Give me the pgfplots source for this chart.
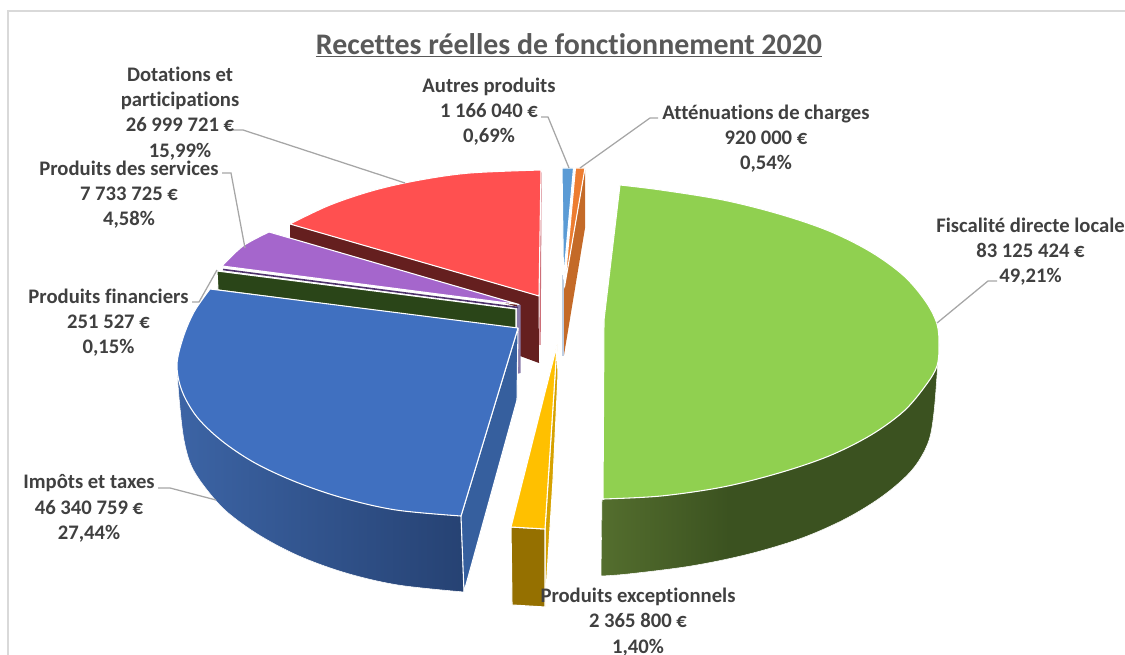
\documentclass[border=0pt]{standalone}
\usepackage{pgfplots}
\pgfplotsset{compat=1.18}
\usepackage{fontspec}
\setmainfont[Ligatures=CommonOff]{Carlito}
\definecolor{txt}{HTML}{404040}
\definecolor{titlec}{HTML}{595959}
\definecolor{leader}{HTML}{A6A6A6}
\definecolor{vert}{RGB}{144,208,80}
\definecolor{vertA}{RGB}{84,110,46}
\definecolor{vertB}{RGB}{59,82,32}
\definecolor{bleu}{RGB}{64,112,192}
\definecolor{bleuA}{RGB}{60,100,165}
\definecolor{bleuB}{RGB}{38,66,115}
\definecolor{bleucoupe}{HTML}{365F9E}
\definecolor{rouge}{HTML}{FF5050}
\definecolor{rougecoupe}{HTML}{651F1F}
\definecolor{rougebord}{RGB}{205,110,120}
\definecolor{violet}{HTML}{A566CC}
\definecolor{violetcoupe}{RGB}{78,50,108}
\definecolor{violetbord}{RGB}{138,124,170}
\definecolor{vertcoupe}{HTML}{2A4518}
\definecolor{jaune}{HTML}{FFC000}
\definecolor{jaunecoupe}{HTML}{D6A200}
\definecolor{jaunebord}{HTML}{957000}
\definecolor{orange}{HTML}{ED7D31}
\definecolor{orangecoupe}{HTML}{C46A28}
\definecolor{bleuclair}{HTML}{5B9BD5}
\definecolor{bleupale}{RGB}{190,205,225}
% the rim of the largest slice darkens over its first third, then stays flat
\pgfdeclarehorizontalshading{vertrim}{100bp}{color(0bp)=(vertA); color(25bp)=(vertA); color(44bp)=(vertB); color(100bp)=(vertB)}
\tikzset{lab/.style={font=\bfseries\fontsize{15.5}{18.9}\selectfont,text=txt,align=center,inner sep=0pt}}
\pgfplotsset{
  face/.style={fill=#1,draw=white,line width=0.8pt,line join=round},
  curved/.style={face=#1,smooth,tension=0.55},
  lead/.style={draw=leader,line width=0.95pt}
}
\begin{document}
\begin{tikzpicture}
\clip (0,0) rectangle (843.75pt,491.25pt);
\begin{axis}[
  at={(0,0)},anchor=south west,
  scale only axis,width=843.75pt,height=491.25pt,
  xmin=0,xmax=1125,ymin=0,ymax=655,y dir=reverse,
  hide axis]

% frame of the chart area
\addplot[draw=black!15,line width=1pt] coordinates {(8,655) (8,11) (1125,11)};

% Fiscalite directe locale: rim, then top
\addplot[smooth,tension=0.55,draw=white,line width=0.4pt,shade,shading=vertrim] coordinates {
  (601,576)(628,574)(691,566)(749,554)(802,538)(847,518)(884,495)(912,470)(928,443)(934,412)(938,360)}
  -- (axis cs:602,500) -- cycle;
\addplot[curved=vert] coordinates {
  (620,185)(661,190)(723,200)(779,214)(829,231)(871,252)(904,276)(926,302)(937,324)(939,345)
  (937,366)(926,385)(904,411)(871,435)(829,456)(779,473)(723,487)(661,496)(603,499)}
  -- (axis cs:604,320) -- cycle;

% Autres produits and Attenuations de charges
\addplot[fill=orangecoupe,draw=none] coordinates {(585,170)(585,228)(564,355)(564,290)(585,170)};
\addplot[draw=bleupale,line width=0.8pt] coordinates {(563,275)(563,356)};
\addplot[face=bleuclair] coordinates {(562,168)(573.5,168)(563.5,279)(562,168)};
\addplot[face=orange] coordinates {(575.5,168)(585,168)(564.5,287)(575.5,168)};

% Produits exceptionnels
\addplot[face=jaunecoupe] coordinates {(557,345)(558,375)(553,480)(545,607)(545,529)(557,345)};
\addplot[face=jaunebord] coordinates {(511,527)(545,529)(545,607)(512,605)(511,527)};
\addplot[face=jaune] coordinates {(557,345)(545,529)(511,527)(557,345)};

% Dotations et participations
\addplot[draw=rougebord,line width=1pt] coordinates {(541,172)(540,345)};
\addplot[fill=rougecoupe,draw=none] coordinates {(290,224)(538.5,296)(539,363)(520,356)(518,307)(290,238)(290,224)};
\addplot[curved=rouge] coordinates {
  (290,224)(330,205)(375,190)(420,180)(470,173)(541,170)}
  -- (axis cs:539,296) -- cycle;

% Produits des services and Produits financiers
\addplot[fill=violetbord,draw=none] coordinates {(517,305)(520.5,305)(520.5,373)(517,374)(517,305)};
\addplot[draw=violetcoupe,line width=1.2pt] coordinates {(223,269.5)(518,307.5)};
\addplot[curved=violet] coordinates {
  (222,266)(243,246)(269,232)}
  -- (axis cs:519,304.5) -- cycle;
\addplot[face=vertcoupe] coordinates {(217,271)(516,309)(516,329)(218,290)(217,271)};

% Impots et taxes: rim, cut face, then top
\addplot[smooth,tension=0.55,draw=white,line width=0.4pt,
  left color=bleuA,right color=bleuB] coordinates {
  (177,372)(180,408)(184,440)(191,465)(204,486)(226,511)(259,535)(299,556)(346,573)(398,585)(464,592)}
  -- (axis cs:461,516) -- cycle;
\addplot[face=bleucoupe] coordinates {(518,328)(461,516)(464,592)(517,400)(518,328)};
\addplot[curved=bleu] coordinates {
  (210,289)(194,312)(183,338)(177,365)(182,391)(197,417)(222,441)(255,463)(296,482)(343,498)(396,510)(461,516)}
  -- (axis cs:518,328) -- cycle;

% leader lines
\addplot[lead] coordinates {(233,130)(243,130)(405,183)};
\addplot[lead] coordinates {(222,173)(231,173)(245,248)};
\addplot[lead] coordinates {(192,302)(199,302)(217,270)};
\addplot[lead] coordinates {(158,488)(170,488)(216,500)};
\addplot[lead] coordinates {(541,117)(548,117)(569,168)};
\addplot[lead] coordinates {(658,118)(650,118)(580,168)};
\addplot[lead] coordinates {(937,323)(988,281)(997,281)};

% title and data labels
\node[font=\bfseries\fontsize{22.4}{26}\selectfont,text=titlec,inner sep=0pt] at (axis cs:569,45)
  {\underline{Recettes réelles de fonctionnement 2020}};
\node[lab] at (axis cs:180,113.5) {Dotations et\\participations\\26~999~721~€\\15,99\%};
\node[lab] at (axis cs:489,111.5) {Autres produits\\1~166~040~€\\0,69\%};
\node[lab] at (axis cs:766,138.5) {Atténuations de charges\\920~000~€\\0,54\%};
\node[lab] at (axis cs:1030.5,251.5) {Fiscalité directe locale\\83~125~424~€\\49,21\%};
\node[lab] at (axis cs:129,194.5) {Produits des services\\7~733~725~€\\4,58\%};
\node[lab] at (axis cs:108.5,322.5) {Produits financiers\\251~527~€\\0,15\%};
\node[lab] at (axis cs:89,508.5) {Impôts et taxes\\46~340~759~€\\27,44\%};
\node[lab] at (axis cs:638,622) {Produits exceptionnels\\2~365~800~€\\1,40\%};
\end{axis}
\end{tikzpicture}
\end{document}
